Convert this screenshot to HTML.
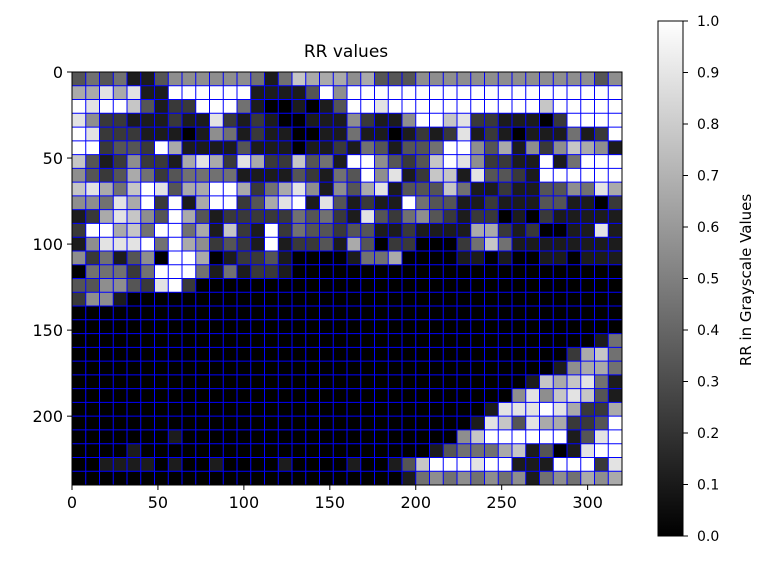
<!DOCTYPE html>
<html><head><meta charset="utf-8"><style>
body{margin:0;background:#fff;}
svg text{font-family:"DejaVu Sans","Liberation Sans",sans-serif;fill:#000;}
</style></head><body>
<svg id="chart" width="767" height="560" viewBox="0 0 767 560" xmlns="http://www.w3.org/2000/svg">
<defs><linearGradient id="cbg" x1="0" y1="1" x2="0" y2="0"><stop offset="0" stop-color="#000"/><stop offset="1" stop-color="#fff"/></linearGradient></defs>
<text x="346" y="57" font-size="17" text-anchor="middle">RR values</text>
<g id="cells"></g>
<g id="grid"></g>
<rect x="72" y="72" width="550" height="413" fill="none" stroke="#000" stroke-width="1"/>
<g id="xaxis"></g>
<g id="yaxis"></g>
<rect x="658" y="21" width="25" height="515" fill="url(#cbg)" stroke="#000" stroke-width="1"/>
<g id="cbaxis"></g>
<text transform="translate(751,280) rotate(-90)" font-size="15" text-anchor="middle">RR in Grayscale Values</text>
</svg>
<script>
const rowsData = [
"3434113555555414766656333555555555555535",
"6686811999999111139599999999999999999999",
"9899731229994100101399899999999999799999",
"8522111211821210011152115997822111029999",
"9822211101541211001141101212812101114129",
"9923329611113111011214313349953615257651",
"7312522168628622734199532379852211914999",
"5323642344441111321439581277183321999999",
"7864798366996246851536813337411211335486",
"5548692916992368918312119433112111331102",
"1268753963122222434218324532122010211111",
"2996749946172192433233112111166212001181",
"1588894965232191223163022000247411111111",
"5241350996012231000014460000110100110111",
"0444249994141221000000000000000000000000",
"3355328920000000000000000000000000000000",
"2551000000000000000000000000000000000000",
"0000000000000000000000000000000000000000",
"0000000000000000000000000000000000000000",
"0000000000000000000000000000000000000014",
"0000000000000000000000000000000000002674",
"0000000000000000000000000000000000015664",
"0000000000000000000000000000000001767841",
"0000000000000000000000000000000058578731",
"0000000000000000000000000000001888986226",
"0000000000000000000000000000018738662239",
"0000000100000000000000000000579999991389",
"0000100000000000000000000013444671301899",
"0011110100100001000010013799989911199928",
"0000000000000000000000001454545451454656"
];
const xTicks = [0,50,100,150,200,250,300];
const yTicks = [0,50,100,150,200];
const cbTicks = [0,0.1,0.2,0.3,0.4,0.5,0.6,0.7,0.8,0.9,1.0];
const cellUnit = 8, xMax = 320, yMax = 240;
const NS = "http://www.w3.org/2000/svg";
const X0=72, Y0=72, W=550, H=413;
const xs = v => X0 + v*W/xMax;
const ys = v => Y0 + v*H/yMax;
const cb = v => 536 - v*515;
function mk(tag, attrs, parent){const e=document.createElementNS(NS,tag);for(const k in attrs)e.setAttribute(k,attrs[k]);parent.appendChild(e);return e;}
const cells=document.getElementById('cells');
rowsData.forEach((row,r)=>{
  for(let c=0;c<row.length;c++){
    const v=+row[c]/9; const g=Math.round(v*255);
    const e=mk('rect',{x:xs(c*cellUnit),y:ys(r*cellUnit),width:xs((c+1)*cellUnit)-xs(c*cellUnit)+0.3,height:ys((r+1)*cellUnit)-ys(r*cellUnit)+0.3,fill:`rgb(${g},${g},${g})`},cells);
    
    
  }
});
const grid=document.getElementById('grid');
for(let u=cellUnit;u<xMax;u+=cellUnit){const l=mk('line',{x1:xs(u),x2:xs(u),y1:Y0,y2:Y0+H,stroke:'#0000ff','stroke-width':1},grid);
  
  }
for(let u=cellUnit;u<yMax;u+=cellUnit){const l=mk('line',{x1:X0,x2:X0+W,y1:ys(u),y2:ys(u),stroke:'#0000ff','stroke-width':1},grid);
  
  }
const xa=document.getElementById('xaxis');
xTicks.forEach(t=>{mk('line',{x1:xs(t),x2:xs(t),y1:Y0+H,y2:Y0+H+5,stroke:'#000'},xa);
  const tx=mk('text',{x:xs(t),y:Y0+H+23,'font-size':16,'text-anchor':'middle'},xa);tx.textContent=t;
  
  });
const ya=document.getElementById('yaxis');
yTicks.forEach(t=>{mk('line',{x1:X0-5,x2:X0,y1:ys(t),y2:ys(t),stroke:'#000'},ya);
  const tx=mk('text',{x:X0-9,y:ys(t)+6,'font-size':16,'text-anchor':'end'},ya);tx.textContent=t;
  
  });
const ca=document.getElementById('cbaxis');
cbTicks.forEach(t=>{mk('line',{x1:683,x2:688,y1:cb(t),y2:cb(t),stroke:'#000'},ca);
  const tx=mk('text',{x:697,y:cb(t)+5,'font-size':14},ca);tx.textContent=t.toFixed(1);
  
  });
</script>
</body></html>
